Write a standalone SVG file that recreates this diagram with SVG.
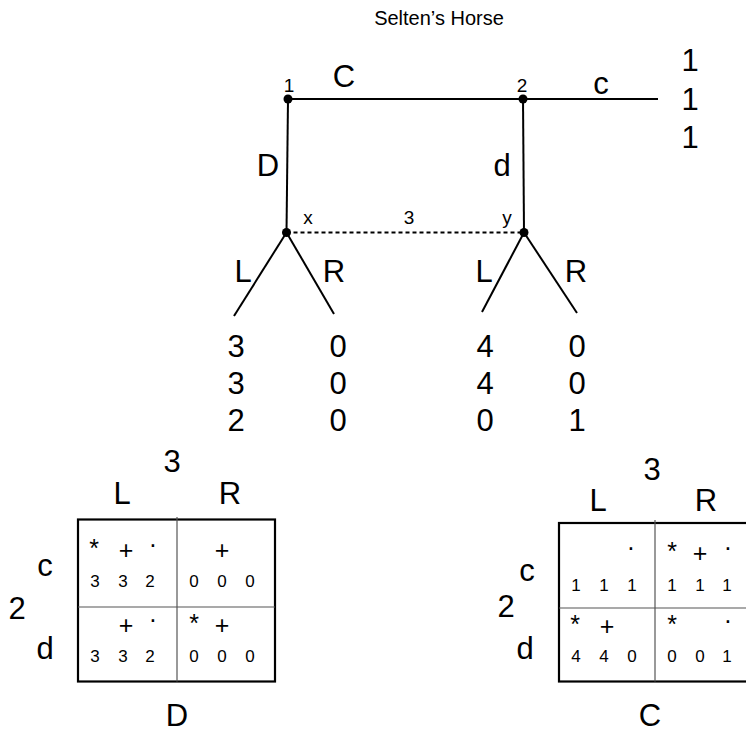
<svg xmlns="http://www.w3.org/2000/svg" width="746" height="734" viewBox="0 0 746 734">
  <style>
    text { font-family: "Liberation Sans", Arial, sans-serif; fill: #000; text-anchor: middle; }
    .title { font-size: 20px; }
    .big { font-size: 31px; }
    .small { font-size: 19px; }
    .cell { font-size: 17px; }
    .sym { font-size: 25px; }
    .edge { stroke: #000; stroke-width: 2; fill: none; }
    .info { stroke: #000; stroke-width: 2; stroke-dasharray: 4 3; fill: none; }
    .frame { stroke: #000; stroke-width: 2.2; fill: #fff; }
    .grid { stroke: #555; stroke-width: 1.2; fill: none; }
    .dot { fill: #000; }
  </style>
  <rect width="746" height="734" fill="#fff"/>

  <text class="title" x="439" y="25">Selten’s Horse</text>

  <!-- tree branches -->
  <g id="connectors">
    <line class="edge" x1="288" y1="99" x2="658" y2="99"/>
    <line class="edge" x1="288" y1="99" x2="286.5" y2="232.5"/>
    <line class="edge" x1="523" y1="99" x2="524" y2="232.5"/>
    <line class="info" x1="286.5" y1="232.5" x2="524" y2="232.5"/>
    <line class="edge" x1="286.5" y1="232.5" x2="234" y2="316"/>
    <line class="edge" x1="286.5" y1="232.5" x2="334" y2="314"/>
    <line class="edge" x1="524" y1="232.5" x2="482" y2="312"/>
    <line class="edge" x1="524" y1="232.5" x2="577" y2="313"/>
  </g>

  <!-- decision nodes -->
  <g id="node-1">
    <circle class="dot" cx="288" cy="99" r="4.5"/>
    <text class="small" x="289" y="92">1</text>
  </g>
  <g id="node-2">
    <circle class="dot" cx="523" cy="99" r="4.5"/>
    <text class="small" x="522" y="92">2</text>
  </g>
  <g id="node-x">
    <circle class="dot" cx="286.5" cy="232.5" r="4.5"/>
    <text class="small" x="308" y="224">x</text>
  </g>
  <g id="node-y">
    <circle class="dot" cx="524" cy="232.5" r="4.5"/>
    <text class="small" x="507" y="224">y</text>
  </g>
  <g id="info-set-3">
    <text class="small" x="409" y="224">3</text>
  </g>

  <!-- action labels -->
  <g id="actions">
    <text class="big" x="344" y="87">C</text>
    <text class="big" x="601" y="94">c</text>
    <text class="big" x="268" y="176">D</text>
    <text class="big" x="502" y="176">d</text>
    <text class="big" x="243" y="282">L</text>
    <text class="big" x="334" y="282">R</text>
    <text class="big" x="484" y="282">L</text>
    <text class="big" x="576" y="282">R</text>
  </g>

  <!-- terminal payoffs -->
  <g id="payoff-c">
    <text class="big" x="690" y="71">1</text>
    <text class="big" x="690" y="110">1</text>
    <text class="big" x="690" y="148">1</text>
  </g>
  <g id="payoff-xL">
    <text class="big" x="236" y="357">3</text>
    <text class="big" x="236" y="394">3</text>
    <text class="big" x="236" y="431">2</text>
  </g>
  <g id="payoff-xR">
    <text class="big" x="338" y="357">0</text>
    <text class="big" x="338" y="394">0</text>
    <text class="big" x="338" y="431">0</text>
  </g>
  <g id="payoff-yL">
    <text class="big" x="485" y="357">4</text>
    <text class="big" x="485" y="394">4</text>
    <text class="big" x="485" y="431">0</text>
  </g>
  <g id="payoff-yR">
    <text class="big" x="577" y="357">0</text>
    <text class="big" x="577" y="394">0</text>
    <text class="big" x="577" y="431">1</text>
  </g>

  <!-- strategic form when player 1 plays D -->
  <g id="matrix-D">
    <rect class="frame" x="78" y="519.5" width="197" height="162"/>
    <line class="grid" x1="177" y1="517" x2="177" y2="681.5"/>
    <line class="grid" x1="78" y1="607" x2="275" y2="607"/>
    <text class="big" x="172" y="472">3</text>
    <text class="big" x="122" y="504">L</text>
    <text class="big" x="230" y="504">R</text>
    <text class="big" x="45" y="576">c</text>
    <text class="big" x="17" y="619">2</text>
    <text class="big" x="45" y="659">d</text>
    <text class="big" x="177" y="726">D</text>
    <!-- row c, column L -->
    <text class="sym" x="94" y="557">*</text>
    <text class="sym" x="126" y="559">+</text>
    <text class="sym" x="153" y="553">·</text>
    <text class="cell" x="95" y="587">3</text>
    <text class="cell" x="123" y="587">3</text>
    <text class="cell" x="150" y="587">2</text>
    <!-- row c, column R -->
    <text class="sym" x="222" y="559">+</text>
    <text class="cell" x="194" y="587">0</text>
    <text class="cell" x="222" y="587">0</text>
    <text class="cell" x="250" y="587">0</text>
    <!-- row d, column L -->
    <text class="sym" x="126" y="634">+</text>
    <text class="sym" x="153" y="628">·</text>
    <text class="cell" x="95" y="662">3</text>
    <text class="cell" x="123" y="662">3</text>
    <text class="cell" x="150" y="662">2</text>
    <!-- row d, column R -->
    <text class="sym" x="194" y="632">*</text>
    <text class="sym" x="222" y="634">+</text>
    <text class="cell" x="194" y="662">0</text>
    <text class="cell" x="222" y="662">0</text>
    <text class="cell" x="250" y="662">0</text>
  </g>

  <!-- strategic form when player 1 plays C -->
  <g id="matrix-C">
    <rect class="frame" x="559" y="523" width="193" height="158.5"/>
    <line class="grid" x1="655" y1="520" x2="655" y2="681.5"/>
    <line class="grid" x1="559" y1="608" x2="752" y2="608"/>
    <text class="big" x="652" y="480">3</text>
    <text class="big" x="598" y="511">L</text>
    <text class="big" x="706" y="511">R</text>
    <text class="big" x="527" y="581">c</text>
    <text class="big" x="506" y="617">2</text>
    <text class="big" x="525" y="659">d</text>
    <text class="big" x="650" y="726">C</text>
    <!-- row c, column L -->
    <text class="sym" x="631" y="556">·</text>
    <text class="cell" x="576" y="591">1</text>
    <text class="cell" x="604" y="591">1</text>
    <text class="cell" x="632" y="591">1</text>
    <!-- row c, column R -->
    <text class="sym" x="672" y="560">*</text>
    <text class="sym" x="700" y="562">+</text>
    <text class="sym" x="728" y="556">·</text>
    <text class="cell" x="672" y="591">1</text>
    <text class="cell" x="700" y="591">1</text>
    <text class="cell" x="727" y="591">1</text>
    <!-- row d, column L -->
    <text class="sym" x="575" y="633">*</text>
    <text class="sym" x="607" y="635">+</text>
    <text class="cell" x="576" y="662">4</text>
    <text class="cell" x="604" y="662">4</text>
    <text class="cell" x="632" y="662">0</text>
    <!-- row d, column R -->
    <text class="sym" x="672" y="633">*</text>
    <text class="sym" x="728" y="629">·</text>
    <text class="cell" x="672" y="662">0</text>
    <text class="cell" x="700" y="662">0</text>
    <text class="cell" x="727" y="662">1</text>
  </g>
</svg>
